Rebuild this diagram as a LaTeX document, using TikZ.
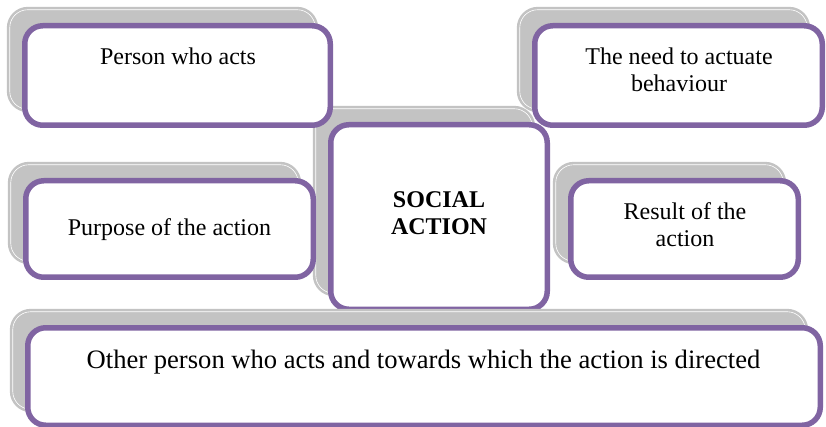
\documentclass[tikz,border=0pt]{standalone}
\usepackage{fontspec}
\setmainfont{Liberation Serif}
\usetikzlibrary{shadows}

\definecolor{cardpurple}{RGB}{128,100,162}
\definecolor{cardgray}{RGB}{195,195,195}

\tikzset{
  card/.style 2 args={draw=cardpurple, line width=5.5pt, fill=white,
    rounded corners=18pt, inner sep=0pt,
    minimum width=#1pt, minimum height=#2pt,
    general shadow={shadow xshift=-15pt, shadow yshift=16pt,
      fill=cardgray, draw=cardgray, line width=2.6pt,
      double=white, double distance=0.6pt}},
  cardtext/.style={font=\fontsize{24}{27}\selectfont, align=center,
    inner sep=0pt, anchor=base},
}

\begin{document}
\begin{tikzpicture}[x=1pt, y=-1pt]
  \useasboundingbox (0,0) rectangle (826,427);

  % the five cards round the centre, drawn after it
  \node[card={216.5}{184.5}] (social) at (439,217) {};
  \node[card={305.5}{99.5}] (person) at (177.5,75.5) {};
  \node[card={287.5}{99.5}] (need) at (678.5,75.5) {};
  \node[card={287.5}{96.5}] (purpose) at (169.5,229) {};
  \node[card={227.5}{96.5}] (result) at (684.5,229) {};
  \node[card={792.5}{97.5}] (other) at (424,376.5) {};

  % texts, placed on the baseline of their last line
  \node[cardtext] (socialtxt) at (439,235) {\textbf{SOCIAL}\\\textbf{ACTION}};
  \node[cardtext] (persontxt) at (178,65) {Person who acts};
  \node[cardtext] (needtxt) at (679,92) {The need to actuate\\behaviour};
  \node[cardtext] (purposetxt) at (169.5,236) {Purpose of the action};
  \node[cardtext] (resulttxt) at (685,247) {Result of the\\action};
  \node[cardtext, font=\fontsize{26.6}{30}\selectfont] (othertxt) at (423.5,368)
    {Other person who acts and towards which the action is directed};
\end{tikzpicture}
\end{document}
